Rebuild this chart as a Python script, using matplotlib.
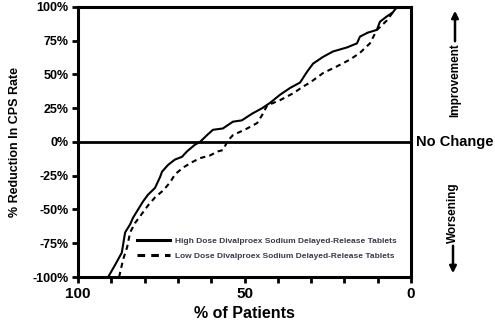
import numpy as np
import matplotlib.pyplot as plt

plt.rcParams['font.family'] = ['Liberation Sans', 'DejaVu Sans']

# % of patients (x, reversed axis) and % reduction in CPS rate (y)
high_x = [91.0, 88.9, 86.9, 85.9, 84.4, 83.5, 82.0, 80.5, 79.0, 76.9, 75.4, 74.8,
          73.0, 70.9, 68.8, 67.3, 64.9, 63.4, 61.3, 59.5, 56.5, 53.5, 50.8, 47.7,
          44.7, 42.3, 39.3, 36.3, 33.3, 31.2, 29.4, 26.4, 23.4, 19.2, 16.2, 15.3,
          12.9, 10.2, 9.3, 7.2, 5.4, 4.2]
high_y = [-100, -91, -82, -67, -61, -56, -50, -44, -39, -34, -26, -22,
          -17, -13, -11, -7, -2, 0, 5, 9, 10, 15, 16, 21,
          25, 29, 35, 40, 44, 52, 58, 63, 67, 70, 73, 78,
          81, 83, 89, 93, 96, 100]

low_x = [87.7, 86.5, 85.3, 84.4, 82.9, 80.8, 79.0, 76.9, 74.5, 72.4, 70.9, 68.5,
         65.8, 63.4, 60.4, 58.0, 56.5, 55.0, 53.5, 49.2, 46.2, 44.7, 43.2, 39.3,
         35.4, 32.4, 30.3, 26.4, 22.2, 18.3, 15.3, 12.3, 10.2, 9.3, 7.2, 5.4, 4.2]
low_y = [-100, -87, -78, -67, -60, -53, -47, -41, -36, -30, -24, -19,
         -15, -12, -10, -7, -6, 1, 5, 10, 14, 20, 27, 31,
         36, 41, 44, 51, 56, 61, 66, 73, 83, 85, 90, 96, 100]

y_ticks = [-100, -75, -50, -25, 0, 25, 50, 75, 100]
y_labels = ['-100%', '-75%', '-50%', '-25%', '0%', '25%', '50%', '75%', '100%']
x_ticks = list(range(0, 101, 10))
x_labels = {100: '100', 50: '50', 0: '0'}

fig = plt.figure(figsize=(4.95, 3.29), dpi=100)
ax = fig.add_axes([0.158, 0.158, 0.672, 0.821])

ax.plot(high_x, high_y, color='black', lw=1.5, label='High Dose Divalproex Sodium Delayed-Release Tablets')
ax.plot(low_x, low_y, color='black', lw=1.5, ls=(0, (2.5, 2)), label='Low Dose Divalproex Sodium Delayed-Release Tablets')
ax.axhline(0, color='black', lw=2)

ax.set_xlim(100, 0)
ax.set_ylim(-100, 100)
ax.set_yticks(y_ticks)
ax.set_yticklabels(y_labels, fontsize=9, fontweight='bold')
ax.set_xticks(x_ticks)
ax.set_xticklabels([x_labels.get(t, '') for t in x_ticks], fontsize=11, fontweight='bold')
ax.tick_params(axis='both', direction='out', length=4, width=2, pad=3)
for s in ax.spines.values():
    s.set_linewidth(2.2)

ax.set_xlabel('% of Patients', fontsize=11.5, fontweight='bold', labelpad=4)
ax.set_ylabel('% Reduction In CPS Rate', fontsize=9, fontweight='bold', labelpad=8)

ax.text(1.015, 0.5, 'No Change', transform=ax.transAxes, fontsize=10.5, fontweight='bold',
        va='center', ha='left')

# direction arrows on the right
ax.annotate('', xy=(455 / 495, 1 - 8 / 329), xytext=(455 / 495, 1 - 44 / 329),
            xycoords='figure fraction', textcoords='figure fraction',
            arrowprops=dict(arrowstyle='-|>', color='black', lw=1.8, mutation_scale=10))
fig.text(455 / 495, 1 - 80 / 329, 'Improvement', rotation=90, fontsize=8.5, fontweight='bold',
         ha='center', va='center')
ax.annotate('', xy=(453 / 495, 1 - 276 / 329), xytext=(453 / 495, 1 - 243 / 329),
            xycoords='figure fraction', textcoords='figure fraction',
            arrowprops=dict(arrowstyle='-|>', color='black', lw=1.8, mutation_scale=10))
fig.text(453 / 495, 1 - 213 / 329, 'Worsening', rotation=90, fontsize=8.5, fontweight='bold',
         ha='center', va='center')

leg = ax.legend(loc='lower right', bbox_to_anchor=(0.98, 0.035), frameon=False,
                prop={'size': 6.0, 'weight': 'bold'}, handlelength=4.0, handletextpad=0.6,
                labelspacing=0.9)
for t in leg.get_texts():
    t.set_color('#3a3a4a')
for h in leg.get_lines():
    h.set_linewidth(2.2)

fig.savefig('out.png', dpi=100)
